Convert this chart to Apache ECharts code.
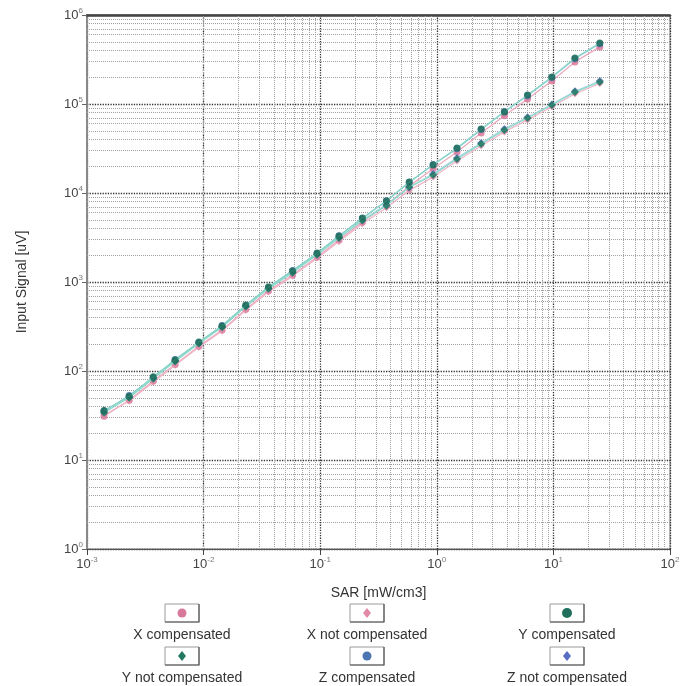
<!DOCTYPE html>
<html>
<head>
<meta charset="utf-8">
<script src="https://cdn.jsdelivr.net/npm/echarts@6/dist/echarts.min.js"></script>
<style>
html,body{margin:0;padding:0;background:#fff;}
#chart{width:688px;height:686px;}
</style>
</head>
<body>
<div id="chart"></div>
<script>
// SAR values [mW/cm3]
const sar = [0.0014, 0.0023, 0.0037, 0.0057, 0.0091, 0.0144, 0.023, 0.036, 0.058, 0.094, 0.145, 0.23, 0.37, 0.58, 0.93, 1.49, 2.4, 3.8, 6.0, 9.7, 15.3, 25];
// Input signal [uV]
const xComp    = [31, 47, 77, 118, 190, 288, 495, 795, 1200, 1910, 2960, 4720, 7350, 11950, 18700, 28900, 47200, 73800, 114000, 181000, 297000, 438000];
const xNotComp = [32, 46, 75, 116, 185, 281, 482, 772, 1165, 1855, 2860, 4520, 6820, 10700, 15100, 22900, 33900, 48600, 66200, 93200, 130500, 170000];
const yComp    = [36, 52, 86, 133, 212, 321, 552, 880, 1330, 2120, 3290, 5240, 8130, 13300, 20600, 32000, 52400, 81300, 126000, 201000, 329000, 484000];
const yNotComp = [34, 50, 82, 128, 204, 310, 530, 842, 1272, 2022, 3122, 4900, 7200, 11700, 15900, 24100, 35600, 51000, 69600, 97500, 136000, 177000];
const zComp    = [35, 53, 84, 135, 208, 325, 545, 870, 1350, 2090, 3310, 5180, 8200, 13100, 20900, 31500, 51800, 82500, 124000, 198000, 322000, 476000];
const zNotComp = [36, 51, 84, 130, 206, 315, 535, 850, 1290, 2050, 3150, 4950, 7400, 11500, 16400, 24800, 36500, 52500, 71000, 99000, 139000, 181000];
// tick labels (exponents of 10)
const xTickExp = [-3, -2, -1, 0, 1, 2];
const yTickExp = [0, 1, 2, 3, 4, 5, 6];
const seriesNames = ['X compensated', 'X not compensated', 'Y compensated', 'Y not compensated', 'Z compensated', 'Z not compensated'];

const styles = {
  'X compensated':     {sym: 'circle',  size: 7, color: '#d8789a', line: '#ecaabd'},
  'X not compensated': {sym: 'diamond', size: 7, color: '#e08aa6', line: '#f0b6c7'},
  'Y compensated':     {sym: 'circle',  size: 7, color: '#1f6f5c', line: '#86d6c6'},
  'Y not compensated': {sym: 'diamond', size: 8, color: '#237a62', line: '#92dacb'},
  'Z compensated':     {sym: 'circle',  size: 7, color: '#4b76b2', line: '#9acbe0'},
  'Z not compensated': {sym: 'diamond', size: 8, color: '#5a6cc0', line: '#a6d3e5'}
};
const dataMap = {
  'X compensated': xComp, 'X not compensated': xNotComp,
  'Y compensated': yComp, 'Y not compensated': yNotComp,
  'Z compensated': zComp, 'Z not compensated': zNotComp
};

function supLabel(v) {
  const e = Math.round(Math.log10(v));
  return '{b|10}{s|' + e + '}';
}
const richLabel = {
  b: {fontSize: 13, color: '#444', lineHeight: 16, fontFamily: 'Liberation Sans, Arial, sans-serif'},
  s: {fontSize: 8, color: '#777', lineHeight: 8, verticalAlign: 'top', fontFamily: 'Liberation Sans, Arial, sans-serif'}
};

// minor log grid positions (2..9 within each decade) – grid decoration only
const minorX = [], minorY = [];
for (let e = xTickExp[0]; e < xTickExp[xTickExp.length - 1]; e++)
  for (let m = 2; m <= 9; m++) minorX.push({xAxis: m * Math.pow(10, e)});
for (let e = yTickExp[0]; e < yTickExp[yTickExp.length - 1]; e++)
  for (let m = 2; m <= 9; m++) minorY.push({yAxis: m * Math.pow(10, e)});

const order = ['X compensated', 'X not compensated', 'Z compensated', 'Z not compensated', 'Y not compensated', 'Y compensated'];
const series = [{
  name: 'grid',
  type: 'line',
  data: [[sar[0], yComp[0]]],
  symbol: 'none',
  lineStyle: {opacity: 0},
  silent: true,
  z: 1,
  markLine: {
    silent: true,
    symbol: ['none', 'none'],
    label: {show: false},
    animation: false,
    lineStyle: {type: 'dotted', color: '#a0a0a0', width: 1},
    data: minorX.concat(minorY)
  }
}];
order.forEach((n, i) => {
  const st = styles[n];
  series.push({
    name: n,
    type: 'line',
    data: sar.map((x, k) => [x, dataMap[n][k]]),
    symbol: st.sym,
    symbolSize: st.size,
    itemStyle: {color: st.color, opacity: 0.85},
    lineStyle: {color: st.line, width: 1.3},
    z: 5 + i
  });
});

// legend drawn as boxes with the symbol above the name
const legendCols = [182, 367, 567];
const legendRows = [604, 647];
const graphic = [];
seriesNames.forEach((n, i) => {
  const cx = legendCols[i % 3];
  const top = legendRows[Math.floor(i / 3)];
  const st = styles[n];
  graphic.push({type: 'rect', shape: {x: cx - 17, y: top, width: 34, height: 18},
    style: {fill: '#fff', stroke: '#9a9a9a', lineWidth: 1}});
  graphic.push({type: 'polyline', shape: {points: [[cx + 17, top], [cx + 17, top + 18], [cx - 17, top + 18]]},
    style: {stroke: '#555', lineWidth: 1.2, fill: null}});
  if (st.sym === 'circle') {
    graphic.push({type: 'circle', shape: {cx: cx, cy: top + 9, r: n === 'Y compensated' ? 5 : 4.5},
      style: {fill: st.color}});
  } else {
    graphic.push({type: 'polygon', shape: {points: [[cx, top + 4], [cx + 4, top + 9], [cx, top + 14], [cx - 4, top + 9]]},
      style: {fill: st.color}});
  }
  graphic.push({type: 'text', x: cx, y: top + 31,
    style: {text: n, fill: '#333', font: '14px "Liberation Sans", Arial, sans-serif', textAlign: 'center', textVerticalAlign: 'middle'}});
});

const chart = echarts.init(document.getElementById('chart'));
chart.setOption({
  animation: false,
  backgroundColor: '#fff',
  grid: {left: 87, top: 15, right: 18, bottom: 137, show: true, borderColor: '#777', borderWidth: 1},
  xAxis: [{
    type: 'log', logBase: 10, min: 0.001, max: 100, interval: 1,
    name: 'SAR [mW/cm3]', nameLocation: 'middle', nameGap: 37,
    nameTextStyle: {fontSize: 14, color: '#333', fontFamily: 'Liberation Sans, Arial, sans-serif'},
    axisLine: {show: true, lineStyle: {color: '#555', width: 1.2}},
    axisTick: {show: true, length: 6, inside: false, lineStyle: {color: '#444'}},
    axisLabel: {formatter: supLabel, rich: richLabel, margin: 7},
    splitLine: {show: true, lineStyle: {type: 'dotted', color: '#333', width: 1.3}},
    minorTick: {show: false}
  }, {
    type: 'log', logBase: 10, min: 0.001, max: 100, position: 'top',
    axisLine: {show: true, lineStyle: {color: '#444', width: 2.5}},
    axisTick: {show: false}, axisLabel: {show: false}, splitLine: {show: false}
  }],
  yAxis: {
    type: 'log', logBase: 10, min: 1, max: 1000000, interval: 1,
    name: 'Input Signal [uV]', nameLocation: 'middle', nameGap: 58,
    nameTextStyle: {fontSize: 14, color: '#333', fontFamily: 'Liberation Sans, Arial, sans-serif'},
    axisLine: {show: true, lineStyle: {color: '#888', width: 2}},
    axisTick: {show: true, length: 5, lineStyle: {color: '#666'}},
    axisLabel: {formatter: supLabel, rich: richLabel, margin: 4},
    splitLine: {show: true, lineStyle: {type: 'dotted', color: '#333', width: 1.3}}
  },
  graphic: graphic,
  series: series
});
</script>
</body>
</html>
